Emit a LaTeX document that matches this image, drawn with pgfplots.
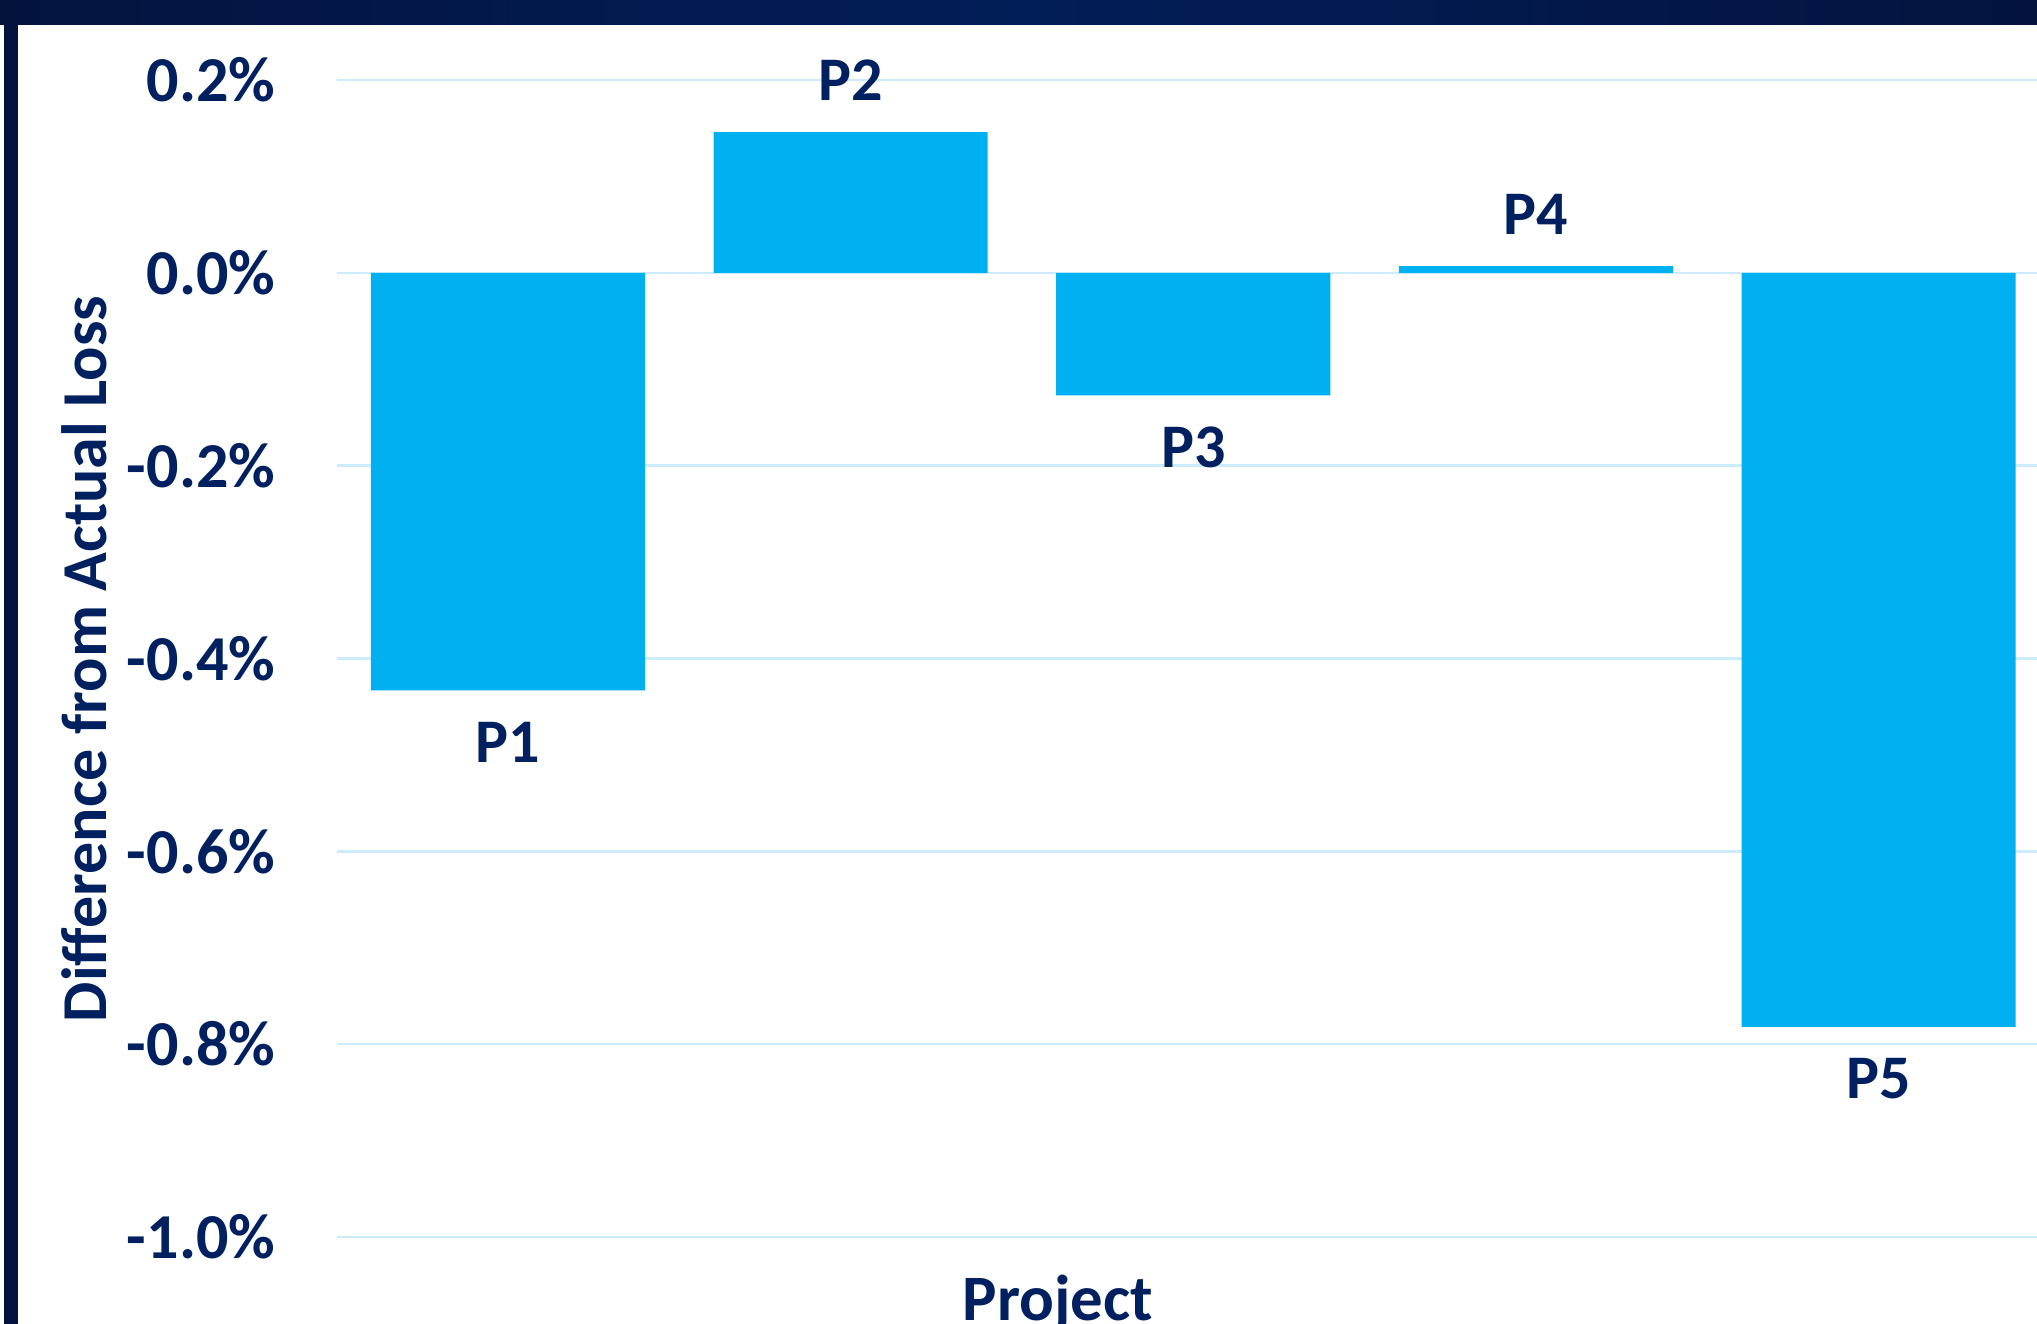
\documentclass[border=0pt]{standalone}
\usepackage{pgfplots}
\pgfplotsset{compat=1.18}
\usepackage{fontspec}
\setmainfont{Carlito}
\definecolor{navy}{HTML}{002060}
\definecolor{barblue}{HTML}{00B0F0}
\definecolor{gridblue}{RGB}{204,236,252}
\definecolor{bandA}{RGB}{3,19,62}
\definecolor{bandB}{RGB}{2,30,88}
\begin{document}
\begin{tikzpicture}
\clip (0,0) rectangle (509.25pt,331pt);
\fill[white] (0,0) rectangle (509.25pt,331pt);
\begin{axis}[
  at={(84.15pt,21.75pt)}, anchor=south west, scale only axis,
  width=428.35pt, height=289.25pt,
  xmin=-0.5, xmax=4.5, ymin=-1.0, ymax=0.2,
  axis line style={draw=none},
  xtick=\empty,
  ytick={-1,-0.8,-0.6,-0.4,-0.2,0,0.2},
  yticklabels={-1.0\%,-0.8\%,-0.6\%,-0.4\%,-0.2\%,0.0\%,0.2\%},
  ymajorgrids, grid style={gridblue, line width=0.6pt},
  major tick length=0pt,
  yticklabel style={anchor=east, inner sep=0pt, xshift=-15.15pt, font=\fontsize{16}{18}\selectfont\bfseries, text=navy},
]
\addplot[ybar, bar width=0.8, fill=barblue, draw=none,
  point meta=explicit symbolic,
  visualization depends on={value \thisrow{anc} \as \myanc},
  nodes near coords,
  every node near coord/.append style={anchor=\myanc, font=\fontsize{15.5}{17}\selectfont\bfseries, text=navy, inner xsep=0pt, inner ysep=7.7pt}]
  table[meta=label] {
x y label anc
0 -0.433 P1 north
1 0.146 P2 south
2 -0.127 P3 north
3 0.007 P4 south
4 -0.782 P5 north
};
\end{axis}
\shade[left color=bandA, right color=bandA, middle color=bandB] (0,324.75pt) rectangle (509.25pt,331pt);
\fill[bandA] (1pt,0) rectangle (4.5pt,331pt);
\node[rotate=90, anchor=base, font=\fontsize{16}{18}\selectfont\bfseries, text=navy, inner sep=0pt] at (26.75pt,166.25pt) {Difference from Actual Loss};
\node[anchor=base, font=\fontsize{16.2}{18}\selectfont\bfseries, text=navy, inner sep=0pt] at (264.5pt,0.75pt) {Project};
\end{tikzpicture}
\end{document}
